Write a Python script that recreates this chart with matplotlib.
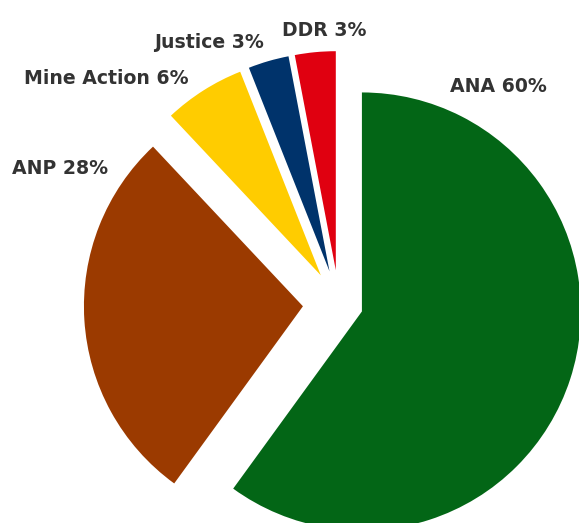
import matplotlib
matplotlib.use("Agg")
import matplotlib.pyplot as plt

# data
labels = ["ANA", "ANP", "Mine Action", "Justice", "DDR"]
shares = [60, 28, 6, 3, 3]

# styling / layout
colors = ["#036616", "#9b3a00", "#ffcc00", "#00336b", "#e00010"]
explode = [0.11, 0.165, 0.155, 0.155, 0.155]
# label anchor points in pixels (x from left, y from top)
label_px = [(498, 86), (60, 168), (106, 78), (209, 42), (324, 31)]

W, H = 579, 523
R_PX = 219.0          # pie radius in pixels
CX, CY = 339.0, 304.0  # pie centre in pixels

fig = plt.figure(figsize=(W / 100, H / 100), dpi=100)
ax = fig.add_axes([0, 0, 1, 1])
ax.pie(shares, colors=colors, explode=explode, startangle=90,
       counterclock=False, radius=1.0,
       wedgeprops=dict(linewidth=0))
ax.set_xlim(-CX / R_PX, (W - CX) / R_PX)
ax.set_ylim(-(H - CY) / R_PX, CY / R_PX)
ax.set_aspect("equal")
ax.axis("off")

for name, val, (px, py) in zip(labels, shares, label_px):
    ax.text(px / W, 1 - py / H, "{} {}%".format(name, val),
            transform=ax.transAxes, ha="center", va="center",
            fontsize=13.6, fontweight="bold", color="#333333",
            family="DejaVu Sans")

fig.savefig("out.png", dpi=100, facecolor="white")
